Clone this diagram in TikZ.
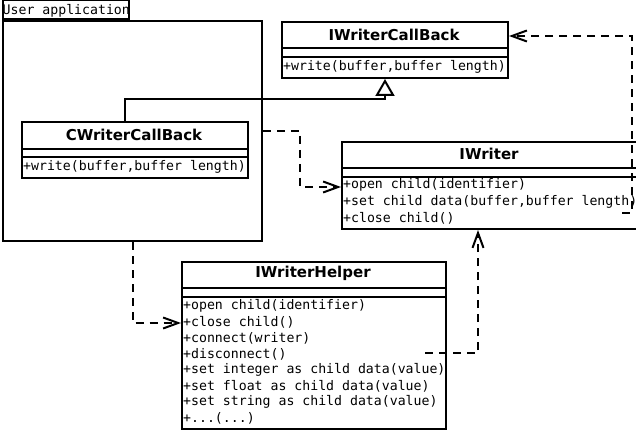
\documentclass[tikz,border=0pt]{standalone}
\usepackage{fontspec}
\newfontfamily\monof{DejaVu Sans Mono}
\newfontfamily\titlef{DejaVu Sans}
\usetikzlibrary{arrows.meta}
\begin{document}
\begin{tikzpicture}[x=1pt,y=-1pt,
  box/.style={draw, line width=2pt, inner sep=0pt, anchor=north west},
  sep/.style={line width=2pt},
  ttl/.style={font=\titlef\bfseries\fontsize{15}{18}\selectfont, inner sep=0pt},
  meth/.style={font=\monof\fontsize{13.2}{16}\selectfont, inner sep=0pt, anchor=west},
  dep/.style={line width=2pt, dash pattern=on 8pt off 6pt, -{Straight Barb[length=15pt,width=11pt,line width=2pt]}},
  inh/.style={line width=2pt, -{Triangle[open,length=17pt,width=19pt,fill=white,line width=2pt]}}
]
\useasboundingbox (0,0) rectangle (636,430);
\fill[white] (0,0) rectangle (636,430);

% package
\node[box, minimum width=259pt, minimum height=220pt] (pkg) at (2,20) {};
\node[box, anchor=south west, minimum width=126pt, minimum height=19pt] (tab) at (2,20) {};
\node[meth] (tabtxt) at (2.5,11) {User application};

% CWriterCallBack
\node[box, minimum width=226pt, minimum height=56pt] (cwcb) at (21,121) {};
\draw[sep] (21,149) -- (247,149) (21,157) -- (247,157);
\node[ttl] (cwcbt) at (134,135) {CWriterCallBack};
\node[meth] (cwcbm) at (23,167) {+write(buffer,buffer length)};

% IWriterCallBack
\node[box, minimum width=226pt, minimum height=56pt] (iwcb) at (281,21) {};
\draw[sep] (281,48) -- (507,48) (281,57) -- (507,57);
\node[ttl] (iwcbt) at (394,35) {IWriterCallBack};
\node[meth] (iwcbm) at (283,67) {+write(buffer,buffer length)};

% IWriter
\node[box, minimum width=298pt, minimum height=87pt] (iw) at (341,141) {};
\draw[sep] (341,168) -- (639,168) (341,177) -- (639,177);
\node[ttl] (iwt) at (489,154) {IWriter};
\node[meth] (iwm1) at (343,185) {+open child(identifier)};
\node[meth] (iwm2) at (343,201.5) {+set child data(buffer,buffer length)};
\node[meth] (iwm3) at (343,218) {+close child()};

% IWriterHelper
\node[box, minimum width=264pt, minimum height=167pt] (iwh) at (181,261) {};
\draw[sep] (181,288) -- (445,288) (181,297) -- (445,297);
\node[ttl] (iwht) at (313,273) {IWriterHelper};
\node[meth] (h1) at (183,306) {+open child(identifier)};
\node[meth] (h2) at (183,322) {+close child()};
\node[meth] (h3) at (183,338) {+connect(writer)};
\node[meth] (h4) at (183,354) {+disconnect()};
\node[meth] (h5) at (183,370) {+set integer as child data(value)};
\node[meth] (h6) at (183,386) {+set float as child data(value)};
\node[meth] (h7) at (183,402) {+set string as child data(value)};
\node[meth] (h8) at (183,418) {+...(...)};

% connectors
\draw[inh] ([xshift=104pt]cwcb.north west) -- ++(0,-22) -| ([xshift=104pt]iwcb.south west);
\draw[dep] (pkg.east) -- ++(37,0) |- ([yshift=-1.5pt]iw.west);
\draw[dep] (pkg.south) |- (iwh.west |- 0,323);
\coordinate (d1) at (425,353);
\draw[dep] (d1) -| ([xshift=-13pt]iw.south);
\coordinate (d2) at (622,213);
\draw[dep] (d2) -- ++(10,0) |- ([yshift=14pt]iwcb.east);
\end{tikzpicture}
\end{document}
